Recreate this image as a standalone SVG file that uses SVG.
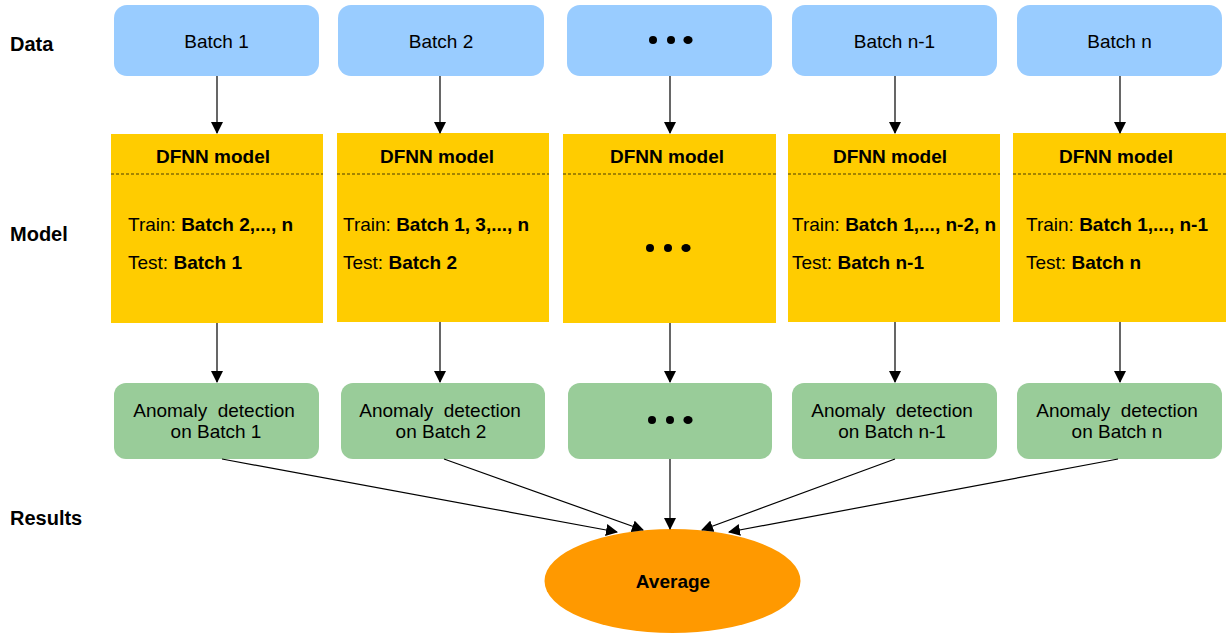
<svg xmlns="http://www.w3.org/2000/svg" width="1231" height="633" viewBox="0 0 1231 633">
<style>
text{font-family:"Liberation Sans",Arial,sans-serif;fill:#000}
.lbl{font-size:20px;font-weight:bold}
.data{fill:#99CCFF}
.model{fill:#FFCC00}
.res{fill:#99CC99}
.t16{font-size:19px}
.b{font-weight:bold}
.dash{stroke:#4a3c00;stroke-width:1;stroke-dasharray:3,2;fill:none}
.conn line{stroke:#000;stroke-width:1.2}
</style>
<defs>
<marker id="ah" markerWidth="12" markerHeight="12" refX="11" refY="6" orient="auto" markerUnits="userSpaceOnUse">
<path d="M0,0 L12,6 L0,12 Z" fill="#000"/>
</marker>
</defs>
<rect width="1231" height="633" fill="#fff"/>
<g id="labels">
<text class="lbl" x="10" y="51">Data</text>
<text class="lbl" x="10" y="241">Model</text>
<text class="lbl" x="10" y="525">Results</text>
</g>
<g id="data1"><rect class="data" x="114" y="5" width="205" height="71" rx="13"/><text class="t16" x="216.5" y="48" text-anchor="middle">Batch 1</text></g>
<g id="data2"><rect class="data" x="338" y="5" width="206" height="71" rx="13"/><text class="t16" x="441" y="48" text-anchor="middle">Batch 2</text></g>
<g id="data3"><rect class="data" x="567" y="5" width="205" height="71" rx="13"/><circle cx="653" cy="40" r="4"/><circle cx="671" cy="40" r="4"/><ellipse cx="688" cy="40" rx="4.6" ry="4"/></g>
<g id="data4"><rect class="data" x="792" y="5" width="205" height="71" rx="13"/><text class="t16" x="894.5" y="48" text-anchor="middle">Batch n-1</text></g>
<g id="data5"><rect class="data" x="1017" y="5" width="205" height="71" rx="13"/><text class="t16" x="1119.5" y="48" text-anchor="middle">Batch n</text></g>

<g id="model1"><rect class="model" x="111" y="134" width="212" height="189"/><line class="dash" x1="111" y1="174" x2="323" y2="174"/><text class="t16 b" x="213" y="163" text-anchor="middle">DFNN model</text><text class="t16" x="128" y="231">Train: <tspan class="b">Batch 2,..., n</tspan></text><text class="t16" x="128" y="269">Test: <tspan class="b">Batch 1</tspan></text></g>
<g id="model2"><rect class="model" x="337" y="133" width="212" height="189"/><line class="dash" x1="337" y1="174" x2="549" y2="174"/><text class="t16 b" x="437" y="163" text-anchor="middle">DFNN model</text><text class="t16" x="343" y="231">Train: <tspan class="b">Batch 1, 3,..., n</tspan></text><text class="t16" x="343" y="269">Test: <tspan class="b">Batch 2</tspan></text></g>
<g id="model3"><rect class="model" x="563" y="134" width="213" height="189"/><line class="dash" x1="563" y1="174" x2="776" y2="174"/><text class="t16 b" x="667" y="163" text-anchor="middle">DFNN model</text><circle cx="650" cy="248" r="4"/><circle cx="668" cy="248" r="4"/><ellipse cx="686" cy="248" rx="4.6" ry="4"/></g>
<g id="model4"><rect class="model" x="788" y="134" width="212" height="188"/><line class="dash" x1="788" y1="174" x2="1000" y2="174"/><text class="t16 b" x="890" y="163" text-anchor="middle">DFNN model</text><text class="t16" x="792" y="231">Train: <tspan class="b">Batch 1,..., n-2, n</tspan></text><text class="t16" x="792" y="269">Test: <tspan class="b">Batch n-1</tspan></text></g>
<g id="model5"><rect class="model" x="1013" y="133" width="213" height="189"/><line class="dash" x1="1013" y1="174" x2="1226" y2="174"/><text class="t16 b" x="1116" y="163" text-anchor="middle">DFNN model</text><text class="t16" x="1026" y="231">Train: <tspan class="b">Batch 1,..., n-1</tspan></text><text class="t16" x="1026" y="269">Test: <tspan class="b">Batch n</tspan></text></g>

<g id="res1"><rect class="res" x="114" y="383" width="205" height="76" rx="12"/><text class="t16" x="214" y="417" text-anchor="middle" xml:space="preserve">Anomaly  detection</text><text class="t16" x="216" y="438" text-anchor="middle">on Batch 1</text></g>
<g id="res2"><rect class="res" x="341" y="383" width="204" height="76" rx="12"/><text class="t16" x="440" y="417" text-anchor="middle" xml:space="preserve">Anomaly  detection</text><text class="t16" x="441" y="438" text-anchor="middle">on Batch 2</text></g>
<g id="res3"><rect class="res" x="568" y="383" width="204" height="76" rx="12"/><circle cx="652" cy="420" r="4"/><circle cx="670" cy="420" r="4"/><ellipse cx="688" cy="420" rx="4.6" ry="4"/></g>
<g id="res4"><rect class="res" x="792" y="383" width="205" height="76" rx="12"/><text class="t16" x="892" y="417" text-anchor="middle" xml:space="preserve">Anomaly  detection</text><text class="t16" x="892" y="438" text-anchor="middle">on Batch n-1</text></g>
<g id="res5"><rect class="res" x="1017" y="383" width="205" height="76" rx="12"/><text class="t16" x="1117" y="417" text-anchor="middle" xml:space="preserve">Anomaly  detection</text><text class="t16" x="1117" y="438" text-anchor="middle">on Batch n</text></g>

<g id="average"><ellipse cx="672.5" cy="581" rx="128" ry="52" fill="#FF9900"/><text class="t16 b" x="673" y="588" text-anchor="middle">Average</text></g>

<g class="conn" id="connectors">
<line x1="217" y1="76" x2="217" y2="133" marker-end="url(#ah)"/>
<line x1="440" y1="76" x2="440" y2="133" marker-end="url(#ah)"/>
<line x1="670" y1="76" x2="670" y2="133" marker-end="url(#ah)"/>
<line x1="895" y1="76" x2="895" y2="133" marker-end="url(#ah)"/>
<line x1="1120" y1="76" x2="1120" y2="133" marker-end="url(#ah)"/>
<line x1="217" y1="323" x2="217" y2="382" marker-end="url(#ah)"/>
<line x1="440" y1="322" x2="440" y2="382" marker-end="url(#ah)"/>
<line x1="670" y1="323" x2="670" y2="382" marker-end="url(#ah)"/>
<line x1="895" y1="322" x2="895" y2="382" marker-end="url(#ah)"/>
<line x1="1120" y1="322" x2="1120" y2="382" marker-end="url(#ah)"/>
<line x1="222" y1="459" x2="617" y2="532" marker-end="url(#ah)"/>
<line x1="444" y1="459" x2="643" y2="530" marker-end="url(#ah)"/>
<line x1="670" y1="459" x2="670" y2="529" marker-end="url(#ah)"/>
<line x1="895" y1="459" x2="702" y2="530" marker-end="url(#ah)"/>
<line x1="1118" y1="459" x2="729" y2="532" marker-end="url(#ah)"/>
</g>
</svg>
